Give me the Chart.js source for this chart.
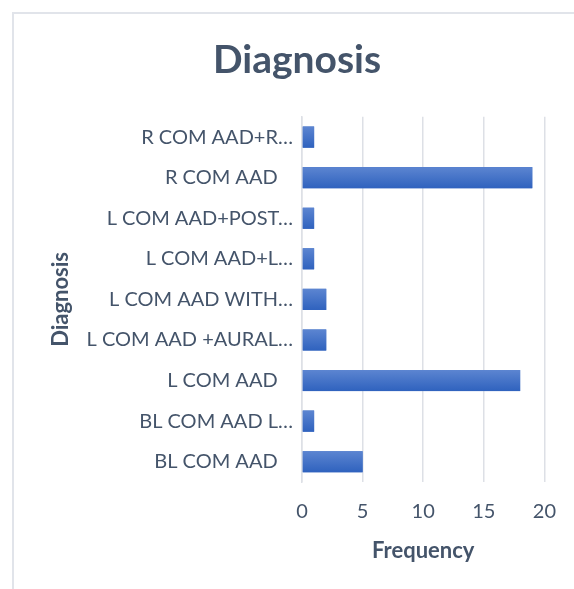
<!DOCTYPE html>
<html>
<head>
<meta charset="utf-8">
<script src="https://cdn.jsdelivr.net/npm/chart.js@4"></script>
<style>
  html, body { margin: 0; padding: 0; background: #fff; }
  #wrap { position: relative; width: 574px; height: 589px; overflow: hidden; }
  #frame { position: absolute; left: 12px; top: 12px; width: 600px; height: 600px;
           border-left: 2px solid #E1E4EA; border-top: 2px solid #E1E4EA; pointer-events: none; }
</style>
</head>
<body>
<div id="wrap">
  <canvas id="myChart"></canvas>
  <div id="frame"></div>
</div>
<script>
const diagnoses = [
  "R COM AAD+R…",
  "R COM AAD   ",
  "L COM AAD+POST…",
  "L COM AAD+L…",
  "L COM AAD WITH…",
  "L COM AAD +AURAL…",
  "L COM AAD   ",
  "BL COM AAD L…",
  "BL COM AAD   "
];
const frequency = [1, 19, 1, 1, 2, 2, 18, 1, 5];
const freqTicks = [0, 5, 10, 15, 20];

const textColor = "#44546A";
const gridColor = "#DDE0E6";

// Excel style top-to-bottom shading on each bar
const barShade = {
  id: "barShade",
  afterDatasetsDraw(chart) {
    const c = chart.ctx;
    chart.getDatasetMeta(0).data.forEach(function (bar) {
      const top = bar.y - bar.height / 2;
      const g = c.createLinearGradient(0, top, 0, top + bar.height);
      g.addColorStop(0, "#5C85D1");
      g.addColorStop(1, "#2F62BE");
      c.save();
      c.fillStyle = g;
      c.fillRect(bar.base, top, bar.x - bar.base, bar.height);
      c.restore();
    });
  }
};

const ctx = document.getElementById("myChart");

var chart = new Chart(ctx, {
  type: "bar",
  data: {
    labels: diagnoses,
    datasets: [
      {
        label: "Frequency",
        data: frequency,
        backgroundColor: "#4472C4",
        barPercentage: 0.52,
        categoryPercentage: 1,
      },
    ],
  },
  options: {
    indexAxis: "y",
    responsive: true,
    maintainAspectRatio: false,
    animation: false,
    layout: {
      padding: { top: 12, left: 48, right: 28, bottom: 25 },
    },
    plugins: {
      legend: { display: false },
      tooltip: { enabled: false },
      title: {
        display: true,
        text: "Diagnosis",
        color: textColor,
        font: { family: "Lato", size: 39, weight: "bold" },
        padding: { top: 25, bottom: 33 },
      },
    },
    scales: {
      x: {
        min: 0,
        max: 20,
        afterBuildTicks: function (scale) {
          scale.ticks = freqTicks.map(function (v) { return { value: v }; });
        },
        afterFit: function (scale) {
          scale.height = 82;
        },
        grid: { color: gridColor, lineWidth: 1.5, drawTicks: false },
        border: { display: false },
        ticks: {
          color: textColor,
          font: { family: "Lato", size: 20 },
          padding: 18,
        },
        title: {
          display: true,
          text: "Frequency",
          color: textColor,
          font: { family: "Lato", size: 22, weight: "bold" },
          padding: 0,
        },
      },
      y: {
        grid: { display: false },
        border: { display: true, color: gridColor, width: 1.5 },
        ticks: {
          color: textColor,
          font: { family: "Lato", size: 20 },
          padding: 1,
        },
        afterFit: function (scale) {
          scale.width = 254;
        },
        title: {
          display: true,
          text: "Diagnosis",
          color: textColor,
          font: { family: "Lato", size: 22, weight: "bold" },
          padding: 0,
        },
      },
    },
  },
  plugins: [barShade],
});
</script>
</body>
</html>
